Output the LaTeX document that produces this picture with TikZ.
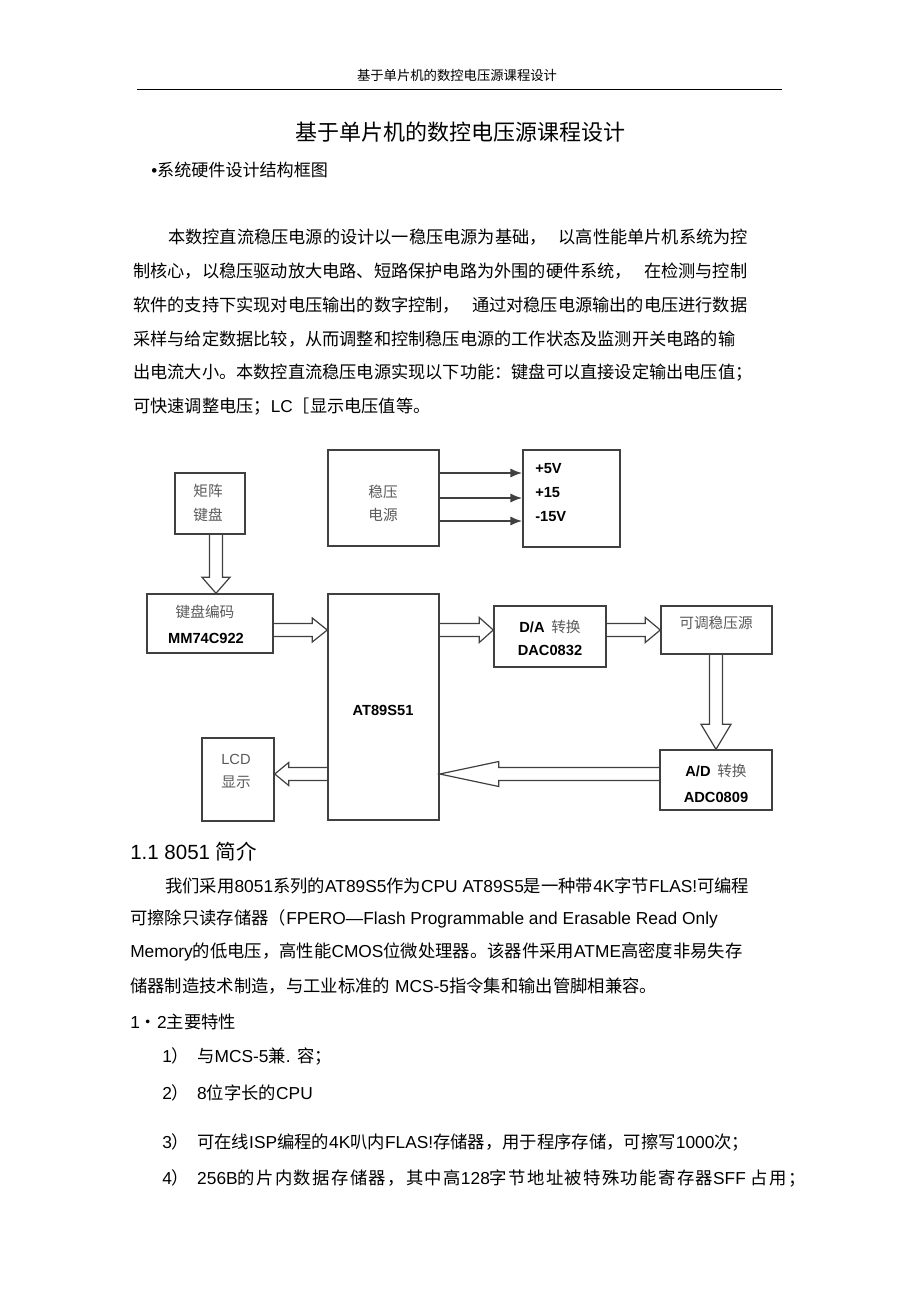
\documentclass[tikz,border=0pt]{standalone}
\usepackage{fontspec}
\setmainfont{Liberation Sans}
\newfontfamily\zhf{Noto Sans CJK SC}
\newfontfamily\zhwide[LetterSpace=8]{Noto Sans CJK SC}
\usetikzlibrary{calc,arrows.meta}
\newcommand\enf[1]{{\rmfamily #1}}
\definecolor{boxline}{HTML}{404040}
\definecolor{lbl}{HTML}{5A5A5A}
% hollow block arrows: #1 start, #2 tip, #3 head length (px), #4 head half width (px)
\newcommand\hollowH[4]{\draw[hol] let \p1=(#1),\p2=(#2),\n1={sign(\x2-\x1)} in
 (\x1,{\y1+4.875pt}) -- ({\x2-\n1*#3*0.75pt},{\y1+4.875pt}) -- ({\x2-\n1*#3*0.75pt},{\y1+#4*0.75pt}) -- (\x2,\y1)
 -- ({\x2-\n1*#3*0.75pt},{\y1-#4*0.75pt}) -- ({\x2-\n1*#3*0.75pt},{\y1-4.875pt}) -- (\x1,{\y1-4.875pt});}
\newcommand\hollowV[4]{\draw[hol] let \p1=(#1),\p2=(#2),\n1={sign(\y2-\y1)} in
 ({\x1+4.875pt},\y1) -- ({\x1+4.875pt},{\y2-\n1*#3*0.75pt}) -- ({\x1+#4*0.75pt},{\y2-\n1*#3*0.75pt}) -- (\x1,\y2)
 -- ({\x1-#4*0.75pt},{\y2-\n1*#3*0.75pt}) -- ({\x1-4.875pt},{\y2-\n1*#3*0.75pt}) -- ({\x1-4.875pt},\y1);}
\begin{document}
\begin{tikzpicture}[x=0.75pt,y=-0.75pt,
  box/.style 2 args={draw=boxline,line width=1.1pt,minimum width=#1,minimum height=#2,inner sep=0},
  zhl/.style={font=\zhf\fontsize{11}{13}\selectfont,text=lbl,inner sep=0},
  bl/.style={font=\bfseries\fontsize{11}{13}\selectfont,inner sep=0},
  body/.style={font=\zhf\fontsize{13}{16}\selectfont,anchor=west,inner sep=0},
  bodyA/.style={font=\zhf\fontsize{12.9}{16}\selectfont,anchor=west,inner sep=0},
  thinarrow/.style={draw=boxline,line width=1.5pt,-{Latex[length=9pt,width=7pt]}},
  hol/.style={draw=boxline,line width=0.9pt,line join=miter}]
\fill[white] (0,0) rectangle (920,1303);
% header
\node[font=\zhf\fontsize{10}{12}\selectfont,inner sep=0] (hdr) at (457,75) {基于单片机的数控电压源课程设计};
\draw[line width=0.7pt] (137,89) coordinate (hl) -- (782,89) coordinate (hr);
\node[font=\zhf\fontsize{16.5}{20}\selectfont,inner sep=0] (title) at (460,132) {基于单片机的数控电压源课程设计};
\node[body,font=\zhf\fontsize{12.8}{16}\selectfont] (bul) at (151,170) {\enf{•}系统硬件设计结构框图};
% paragraph 1
\node[bodyA] (p1) at (168,237) {本数控直流稳压电源的设计以一稳压电源为基础，\hspace{9pt}以高性能单片机系统为控};
\node[bodyA] (p2) at (133,271) {制核心，以稳压驱动放大电路、短路保护电路为外围的硬件系统，\hspace{9pt}在检测与控制};
\node[bodyA] (p3) at (133,305) {软件的支持下实现对电压输出的数字控制，\hspace{9pt}通过对稳压电源输出的电压进行数据};
\node[bodyA] (p4) at (133,339) {采样与给定数据比较，从而调整和控制稳压电源的工作状态及监测开关电路的输};
\node[bodyA] (p5) at (133,373) {出电流大小。本数控直流稳压电源实现以下功能：键盘可以直接设定输出电压值；};
\node[bodyA] (p6) at (133,407) {可快速调整电压；\enf{LC}［显示电压值等。};
% diagram boxes
\node[box={52.5pt}{45.75pt}] (kb) at (210,503.5) {};
\node[box={83.25pt}{72pt}] (src) at (383.5,498) {};
\node[box={72.75pt}{72.75pt}] (out) at (571.5,498.5) {};
\node[box={94.5pt}{44.25pt}] (enc) at (210,623.5) {};
\node[box={83.25pt}{169.5pt}] (mcu) at (383.5,707) {};
\node[box={84pt}{45.75pt}] (da) at (550,636.5) {};
\node[box={83.25pt}{36pt}] (adj) at (716.5,630) {};
\node[box={84pt}{45pt}] (ad) at (716,780) {};
\node[box={54pt}{62.25pt}] (lcd) at (238,779.5) {};
% box labels
\node[zhl] (kbt1) at (208,491) {矩阵};
\node[zhl] (kbt2) at (208,515) {键盘};
\node[zhl] (srct1) at (383,492) {稳压};
\node[zhl] (srct2) at (383,515) {电源};
\node[bl,anchor=west] (o1) at (535,469) {+5V};
\node[bl,anchor=west] (o2) at (535,493) {+15};
\node[bl,anchor=west] (o3) at (535,517) {-15V};
\node[zhl] (enct1) at (205,612) {键盘编码};
\node[bl] (enct2) at (206,638) {MM74C922};
\node[bl] (mcut) at (383,710) {AT89S51};
\node[bl] (dat1) at (550,627) {D/A\hspace{5pt}{\mdseries\zhf\color{lbl}转换}};
\node[bl] (dat2) at (550,650) {DAC0832};
\node[zhl] (adjt) at (716,623) {可调稳压源};
\node[bl] (adt1) at (716,771) {A/D\hspace{5pt}{\mdseries\zhf\color{lbl}转换}};
\node[bl] (adt2) at (716,797) {ADC0809};
\node[font=\fontsize{11}{13}\selectfont,text=lbl,inner sep=0] (lcdt1) at (236,759) {LCD};
\node[zhl] (lcdt2) at (236,782) {显示};
% thin arrows
\draw[thinarrow] (src.east |- 0,473) -- (out.west |- 0,473);
\draw[thinarrow] (src.east |- 0,498) -- (out.west |- 0,498);
\draw[thinarrow] (src.east |- 0,521) -- (out.west |- 0,521);
% hollow arrows
\hollowV{kb.south -| 216,0}{enc.north -| 216,0}{16}{14}
\hollowH{enc.east |- 0,630}{mcu.west |- 0,630}{15}{12}
\hollowH{mcu.east |- 0,630}{da.west |- 0,630}{14}{12.5}
\hollowH{da.east |- 0,630}{adj.west |- 0,630}{15}{12.5}
\hollowV{adj.south -| 716,0}{ad.north -| 716,0}{25}{15}
\hollowH{ad.west |- 0,774}{mcu.east |- 0,774}{59}{12.5}
\hollowH{mcu.west |- 0,774}{lcd.east |- 0,774}{14}{11.5}
% section 1.1
\node[body,font=\zhf\fontsize{15.4}{18}\selectfont] (s11) at (130,852) {\enf{1.1 8051 }简介};
\node[body] (q1) at (165,886) {我们采用\enf{8051}系列的\enf{AT89S5}作为\enf{CPU AT89S5}是一种带\enf{4K}字节\enf{FLAS!}可编程};
\node[body] (q2) at (130,919) {可擦除只读存储器（\enf{FPERO—Flash Programmable and Erasable Read Only}};
\node[body] (q3) at (130,952) {\enf{Memory}的低电压，高性能\enf{CMOS}位微处理器。该器件采用\enf{ATME}高密度非易失存};
\node[body] (q4) at (130,986) {储器制造技术制造，与工业标准的\enf{ MCS-5}指令集和输出管脚相兼容。};
\node[body] (s12) at (130,1022) {\enf{1}・\enf{2}主要特性};
\node[body] (i1) at (162,1056) {\enf{1}）\hspace{6pt}与\enf{MCS-5}兼\enf{. }容；};
\node[body] (i2) at (162,1093) {\enf{2}）\hspace{6pt}\enf{8}位字长的\enf{CPU}};
\node[body] (i3) at (162,1142) {\enf{3}）\hspace{6pt}可在线\enf{ISP}编程的\enf{4K}叭内\enf{FLAS!}存储器，用于程序存储，可擦写\enf{1000}次；};
\node[body,font=\zhwide\fontsize{13}{16}\selectfont] (i4) at (162,1178) {\enf{4}）\hspace{6pt}\enf{256B}的片内数据存储器，其中高\enf{128}字节地址被特殊功能寄存器\enf{SFF }占用；};
\end{tikzpicture}
\end{document}
